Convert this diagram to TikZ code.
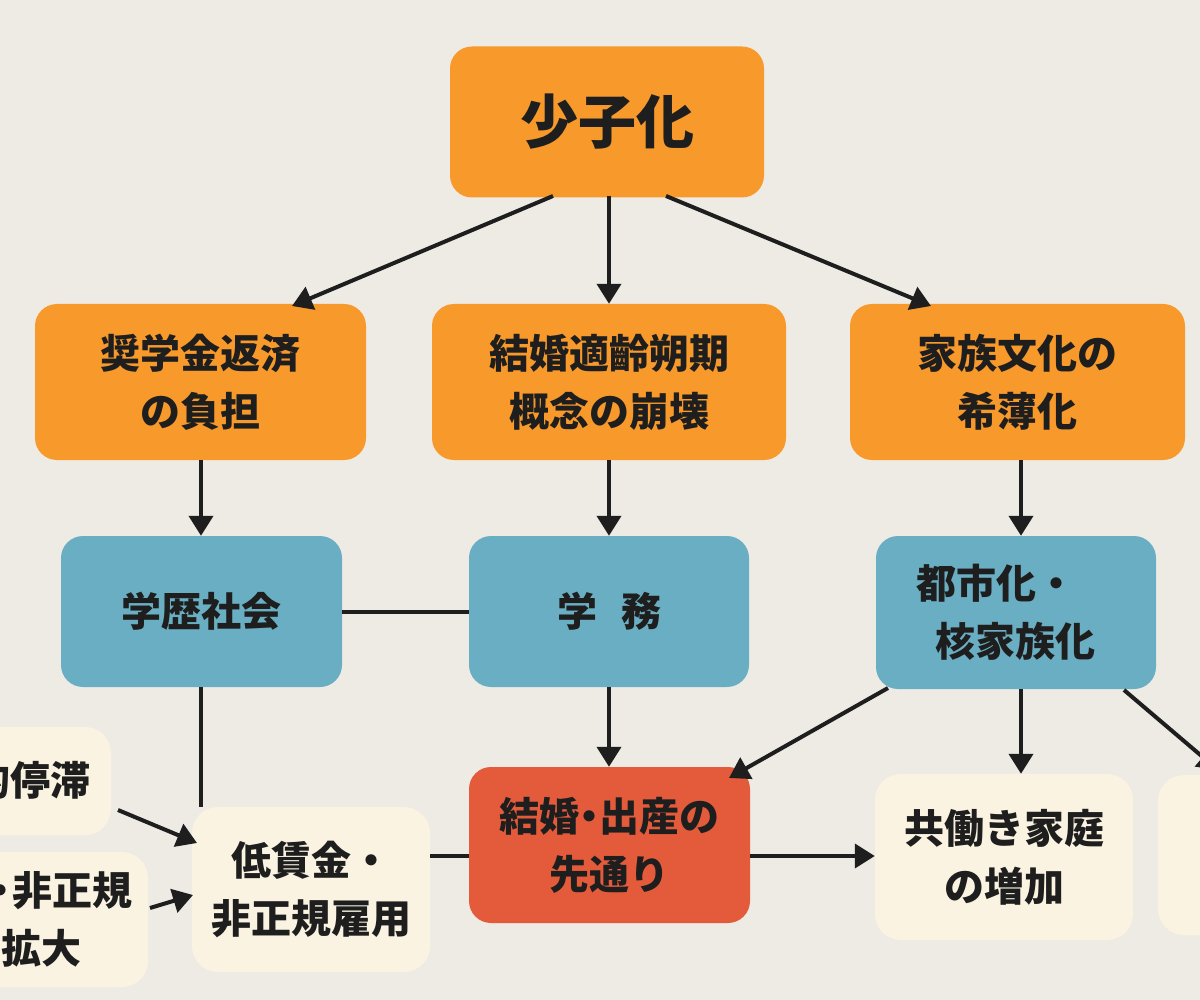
\documentclass[tikz,border=0pt]{standalone}
\usepackage{fontspec}
\setmainfont{Noto Sans CJK JP}
\usetikzlibrary{arrows.meta}
\definecolor{bgc}{HTML}{EEEBE5}
\definecolor{orangec}{HTML}{F7992B}
\definecolor{bluec}{HTML}{69AEC3}
\definecolor{redc}{HTML}{E35B3B}
\definecolor{creamc}{HTML}{FAF3E1}
\definecolor{inkc}{HTML}{1E1E1E}
\tikzset{
  box/.style={rounded corners=22pt, inner sep=0pt, align=center, text=inkc,
    font=\fontsize{40}{58}\selectfont\bfseries},
  orangebox/.style={box, fill=orangec},
  bluebox/.style={box, fill=bluec},
  redbox/.style={box, fill=redc},
  creambox/.style={box, fill=creamc, rounded corners=26pt},
  conn/.style={draw=inkc, line width=4pt},
  arr/.style={conn, -{Triangle[length=20pt,width=24pt]}},
}
\begin{document}
\begin{tikzpicture}[x=1pt,y=-1pt]
\useasboundingbox (0,0) rectangle (1200,1000);
\clip (0,0) rectangle (1200,1000);
\fill[bgc] (0,0) rectangle (1200,1000);

% top
\node[orangebox, minimum width=314pt, minimum height=151pt,
  font=\fontsize{58}{60}\selectfont\bfseries] (top) at (607,122) {少子化};

% row 2
\node[orangebox, minimum width=331pt, minimum height=156pt] (o1) at (200.5,382) {奨学金返済\\の負担};
\node[orangebox, minimum width=354pt, minimum height=156pt] (o2) at (609,382) {結婚適齡朔期\\概念の崩壊};
\node[orangebox, minimum width=335pt, minimum height=156pt] (o3) at (1017.5,382) {家族文化の\\希薄化};

% row 3
\node[bluebox, minimum width=281pt, minimum height=151pt] (b1) at (201.5,611.5) {学歴社会};
\node[bluebox, minimum width=280pt, minimum height=151pt] (b2) at (609,611.5) {学\hspace{24pt}務};
\node[bluebox, minimum width=280pt, minimum height=153pt, align=left] (b3) at (1016,612.5) {都市化・\\\hspace*{19pt}核家族化\hspace*{20pt}};

% row 4
\node[redbox, minimum width=281pt, minimum height=156pt] (red) at (609.5,845) {結婚{\kern-10pt}・{\kern-10pt}出産の\\先通り};
\node[creambox, minimum width=238pt, minimum height=165pt] (low) at (311,889.5) {低賃金・\\非正規雇用};
\node[creambox, minimum width=258pt, minimum height=166pt] (kyo) at (1004,857) {共働き家庭\\の増加};
\node[creambox, minimum width=132pt, minimum height=160pt] (rp) at (1224,855) {};
\node[creambox, minimum width=240pt, minimum height=108pt] (lp1) at (-9,781) {経済的停滞};
\node[creambox, minimum width=252pt, minimum height=135pt] (lp2) at (22,919.5) {雇用{\kern-10pt}・{\kern-8pt}非正規\\の拡大};

% connectors from top
\coordinate (t1) at (553,196);
\coordinate (t2) at (609,196);
\coordinate (t3) at (666,196);
\coordinate (e1) at (292,306);
\coordinate (e3) at (931,306);
\draw[arr] (t1) -- (e1);
\draw[arr] (t2) -- (t2 |- o2.north);
\draw[arr] (t3) -- (e3);

% row2 -> row3
\coordinate (c1) at (201,460);
\coordinate (c2) at (609,460);
\coordinate (c3) at (1021,460);
\draw[arr] (c1) -- (c1 |- b1.north);
\draw[arr] (c2) -- (c2 |- b2.north);
\draw[arr] (c3) -- (c3 |- b3.north);

% row3 links
\draw[conn] (b1.east) -- (b2.west);
\coordinate (d1) at (201,687);
\draw[conn] (d1) -- (d1 |- low.north);
\coordinate (d2) at (609,687);
\draw[arr] (d2) -- (d2 |- red.north);
\coordinate (s1) at (888,688);
\coordinate (e4) at (729,778);
\draw[arr] (s1) -- (e4);
\coordinate (d3) at (1021,689);
\draw[arr] (d3) -- (d3 |- kyo.north);
\coordinate (s2) at (1124,690);
\coordinate (e5) at (1218,770);
\draw[arr] (s2) -- (e5);

% row4 links
\coordinate (r1) at (430,856);
\draw[conn] (r1) -- (red.west |- r1);
\coordinate (r2) at (750,856);
\draw[arr] (r2) -- (kyo.west |- r2);
\coordinate (s3) at (118,810);
\coordinate (e6) at (197,843);
\draw[arr] (s3) -- (e6);
\coordinate (s4) at (150,908);
\coordinate (e7) at (193,895);
\draw[arr] (s4) -- (e7);
\end{tikzpicture}
\end{document}
